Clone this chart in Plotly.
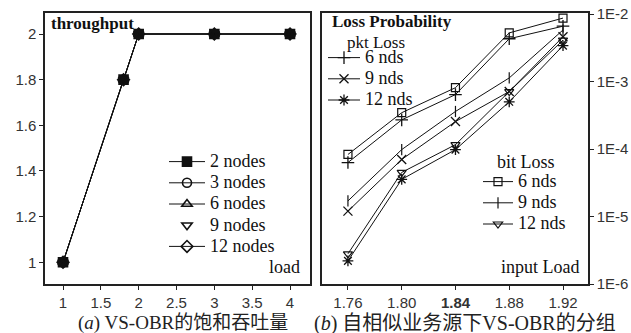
import plotly.graph_objects as go

W, H = 631, 333

# ---------------- data: left panel (saturated throughput) ----------------
load = [1, 1.8, 2, 3, 4]
thr_2 = [1, 1.8, 2, 2, 2]
thr_3 = [1, 1.8, 2, 2, 2]
thr_6 = [1, 1.8, 2, 2, 2]
thr_9 = [1, 1.8, 2, 2, 2]
thr_12 = [1, 1.8, 2, 2, 2]
left_xticks = [1, 1.5, 2, 2.5, 3, 3.5, 4]
left_yticks = [1, 1.2, 1.4, 1.6, 1.8, 2]

# ---------------- data: right panel (loss probability) ----------------
in_load = [1.76, 1.80, 1.84, 1.88, 1.92]
pkt_6 = [6.3e-5, 2.7e-4, 6.4e-4, 4.3e-3, 6.6e-3]
pkt_9 = [1.2e-5, 7.0e-5, 2.55e-4, 7.1e-4, 4.6e-3]
pkt_12 = [2.2e-6, 3.55e-5, 9.8e-5, 5.0e-4, 3.4e-3]
bit_6 = [8.3e-5, 3.45e-4, 8.1e-4, 5.25e-3, 8.7e-3]
bit_9 = [1.7e-5, 9.8e-5, 3.6e-4, 1.13e-3, 5.8e-3]
bit_12 = [2.8e-6, 4.5e-5, 1.16e-4, 7.1e-4, 4.1e-3]
right_xticks = [1.76, 1.80, 1.84, 1.88, 1.92]
right_xtext = ["1.76", "1.80", "<b>1.84</b>", "1.88", "1.92"]
right_yticks = [1e-6, 1e-5, 1e-4, 1e-3, 1e-2]
right_ytext = ["1E-6", "1E-5", "1E-4", "1E-3", "1E-2"]

SERIF = "Liberation Serif, Times New Roman, serif"
SANS = "Liberation Sans, Arial, sans-serif"
CJK = "Liberation Serif, Noto Sans CJK SC, serif"
INK = "#111111"


def lbl(t, size=18):
    return f"<span style='font-size:{size}px'>{t}</span>"


fig = go.Figure()

# left panel traces
left_series = [
    ("2 nodes", thr_2, "square", "lines+markers"),
    ("3 nodes", thr_3, "circle-open", "lines+markers"),
    ("6 nodes", thr_6, "triangle-up-open", "lines+markers"),
    ("9 nodes", thr_9, "triangle-down-open", "markers"),
    ("12 nodes", thr_12, "diamond-open", "lines+markers"),
]
for name, ys, sym, mode in left_series:
    fig.add_trace(go.Scatter(
        x=load, y=ys, mode=mode, name=lbl(name),
        line=dict(color=INK, width=1),
        marker=dict(symbol=sym, size=9, color=INK, line=dict(color=INK, width=1.6)),
        xaxis="x", yaxis="y", legend="legend",
    ))

# right panel traces
pkt_series = [
    ("6 nds", pkt_6, "cross-thin"),
    ("9 nds", pkt_9, "x-thin"),
    ("12 nds", pkt_12, "asterisk"),
]
bit_series = [
    ("6 nds", bit_6, "square-open"),
    ("9 nds", bit_9, "line-ns"),
    ("12 nds", bit_12, "triangle-down-open"),
]
for name, ys, sym in pkt_series:
    fig.add_trace(go.Scatter(
        x=in_load, y=ys, mode="lines+markers", name=lbl(name),
        line=dict(color=INK, width=1),
        marker=dict(symbol=sym, size=9, color=INK, line=dict(color=INK, width=1.3)),
        xaxis="x2", yaxis="y2", legend="legend2",
    ))
for name, ys, sym in bit_series:
    fig.add_trace(go.Scatter(
        x=in_load, y=ys, mode="lines+markers", name=lbl(name),
        line=dict(color=INK, width=1),
        marker=dict(symbol=sym, size=8, color=INK, line=dict(color=INK, width=1.2)),
        xaxis="x2", yaxis="y2", legend="legend3",
    ))

axis_common = dict(
    showline=True, mirror=True, linecolor="#222222", linewidth=1.5,
    showgrid=False, zeroline=False, ticks="outside", ticklen=4,
    tickcolor="#222222", tickfont=dict(family=SANS, size=15, color="#333333"),
    automargin=False,
)

y_dom = [1 - 284 / H, 1 - 13 / H]

fig.update_layout(
    width=W, height=H,
    margin=dict(l=0, r=0, t=0, b=0),
    paper_bgcolor="white", plot_bgcolor="white",
    xaxis=dict(domain=[45 / W, 310 / W], range=[0.762, 4.264],
               tickvals=left_xticks, ticktext=[str(v) for v in left_xticks],
               anchor="y", **axis_common),
    yaxis=dict(domain=y_dom, range=[0.905, 2.092],
               tickvals=left_yticks, ticktext=[("%g" % v) for v in left_yticks],
               anchor="x", **axis_common),
    xaxis2=dict(domain=[322 / W, 588 / W], range=[1.7407, 1.9386],
                tickvals=right_xticks, ticktext=right_xtext,
                anchor="y2", **axis_common),
    yaxis2=dict(domain=y_dom, type="log", range=[-6.0, -1.985], side="right",
                tickvals=right_yticks, ticktext=right_ytext,
                anchor="x2", **axis_common),
    legend=dict(x=164 / W, y=1 - 146 / H, xanchor="left", yanchor="top",
                bgcolor="rgba(0,0,0,0)", borderwidth=0, itemwidth=36,
                font=dict(family=SERIF, size=14, color=INK), tracegroupgap=0),
    legend2=dict(x=323 / W, y=1 - 42 / H, xanchor="left", yanchor="top",
                 bgcolor="rgba(0,0,0,0)", borderwidth=0, itemwidth=32,
                 font=dict(family=SERIF, size=14, color=INK), tracegroupgap=0),
    legend3=dict(x=478 / W, y=1 - 166 / H, xanchor="left", yanchor="top",
                 bgcolor="rgba(0,0,0,0)", borderwidth=0, itemwidth=30,
                 font=dict(family=SERIF, size=14, color=INK), tracegroupgap=0),
    showlegend=True,
)

ann = [
    dict(text="<b>throughput</b>", x=49, y=23, xanchor="left", size=17),
    dict(text="load", x=302, y=267, xanchor="right", size=18),
    dict(text="<b>Loss Probability</b>", x=330, y=22, xanchor="left", size=17),
    dict(text="pkt Loss", x=345, y=43, xanchor="left", size=17),
    dict(text="bit Loss", x=495, y=162, xanchor="left", size=18),
    dict(text="input Load", x=582, y=267, xanchor="right", size=18),
]
for a in ann:
    fig.add_annotation(text=a["text"], xref="paper", yref="paper",
                       x=a["x"] / W, y=1 - a["y"] / H, xanchor=a["xanchor"],
                       yanchor="middle", showarrow=False,
                       font=dict(family=SERIF, size=a["size"], color=INK))

# captions
fig.add_annotation(text="(<i>a</i>) VS-OBR的饱和吞吐量", xref="paper", yref="paper",
                   x=183 / W, y=1 - 323 / H, xanchor="center", yanchor="middle",
                   showarrow=False, font=dict(family=CJK, size=19, color="#222222"))
fig.add_annotation(text="(<i>b</i>) 自相似业务源下VS-OBR的分组", xref="paper", yref="paper",
                   x=312 / W, y=1 - 323 / H, xanchor="left", yanchor="middle",
                   showarrow=False, font=dict(family=CJK, size=20, color="#222222"))

fig.write_html(
    "out.html",
    config={"displayModeBar": False},
    post_script="document.body.style.margin='0';document.body.style.padding='0';"
                "document.body.style.overflow='hidden';",
)
